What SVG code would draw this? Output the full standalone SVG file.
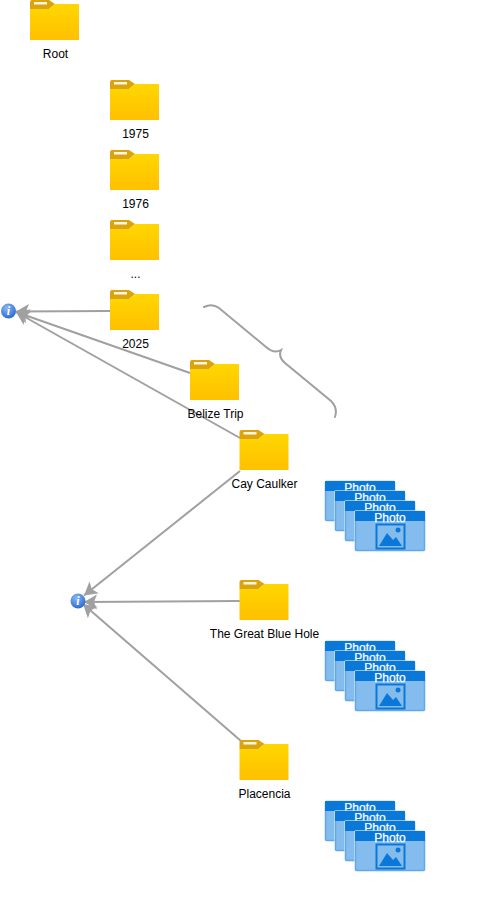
<svg xmlns="http://www.w3.org/2000/svg" width="484" height="902" viewBox="0 0 484 902">
<style>
.lbl{font:12px "Liberation Sans",Arial,sans-serif;fill:#000;text-anchor:middle}
.ph{font:12px "Liberation Sans",Arial,sans-serif;fill:#fff;text-anchor:middle;stroke:#fff;stroke-width:0.250}
.c{fill:none;stroke:#a0a0a0;stroke-width:2}
.brace{fill:none;stroke:#a0a0a0;stroke-width:2;stroke-linecap:round}
</style>
<defs>
<linearGradient id="fg" x1="0" y1="0" x2="0" y2="1"><stop offset="0" stop-color="#ffd700"/><stop offset="1" stop-color="#ffc000"/></linearGradient>
<radialGradient id="ig" cx="0.4" cy="0.3" r="0.8"><stop offset="0" stop-color="#8ab8f0"/><stop offset="1" stop-color="#1f62cc"/></radialGradient>
<marker id="arr" markerUnits="userSpaceOnUse" markerWidth="16" markerHeight="18" refX="14" refY="9" orient="auto"><path d="M14 9 L1 1.500 L4 9 L1 16.500 Z" fill="#a0a0a0"/></marker>
<g id="folder">
<path d="M0 2 Q0 0 2 0 H19 L25 4 L19 9 H0 Z" fill="#dca40c"/>
<rect x="4" y="2" width="13" height="2.500" fill="#fbf6e6"/>
<path d="M0 9 H19 L25 4 H49 V40 H0 Z" fill="url(#fg)"/>
</g>
<g id="info">
<circle cx="0" cy="0" r="7.500" fill="url(#ig)"/>
<text x="0" y="4" font-family="Liberation Serif,serif" font-style="italic" font-weight="bold" font-size="12" fill="#fff" text-anchor="middle">i</text>
</g>
<g id="card">
<rect x="-0.750" y="-0.750" width="71.500" height="41.500" rx="1.500" fill="#fff" fill-opacity="0.800"/>
<rect x="0.500" y="0.500" width="69" height="39" rx="1" fill="#85bcee" stroke="#5fa9ea" stroke-width="1.500"/>
<rect x="0" y="0" width="70" height="10" fill="#0a78d8"/>
<text class="ph" x="35" y="11">Photo</text>
</g>
<g id="pic">
<rect x="21.500" y="13.500" width="28" height="24" fill="none" stroke="#0a78d8" stroke-width="2"/>
<path d="M24 35 L32 22 L38 29 L41 26 L47 35 Z" fill="#0a78d8"/>
<circle cx="43" cy="19" r="2.500" fill="#0a78d8"/>
</g>
</defs>
<g id="connectors">
<path class="c" marker-end="url(#arr)" d="M110 311 L16 311.500"/>
<path class="c" marker-end="url(#arr)" d="M190 373 L16 312"/>
<path class="c" marker-end="url(#arr)" d="M240 438 L16 312"/>
<path class="c" marker-end="url(#arr)" d="M240 471 L84 595.500"/>
<path class="c" marker-end="url(#arr)" d="M240 601 L84 602"/>
<path class="c" marker-end="url(#arr)" d="M241 741 L83 604"/>
<path class="brace" d="M204 307 Q212 303 219 308 L266 347 Q274 354 281 350 Q278 357 285 363 L331 401 Q338 408 335 417"/>
</g>
<g id="root"><use href="#folder" x="30" y="0"/><text class="lbl" x="55.500" y="58">Root</text></g>
<g id="y1975"><use href="#folder" x="110" y="80"/><text class="lbl" x="135.500" y="138">1975</text></g>
<g id="y1976"><use href="#folder" x="110" y="150"/><text class="lbl" x="135.500" y="208">1976</text></g>
<g id="ydots"><use href="#folder" x="110" y="220"/><text class="lbl" x="135.500" y="278">...</text></g>
<g id="y2025"><use href="#folder" x="110" y="290"/><text class="lbl" x="135.500" y="348">2025</text></g>
<g id="belize"><use href="#folder" x="190" y="360"/><text class="lbl" x="215.500" y="418">Belize Trip</text></g>
<g id="cay"><use href="#folder" x="239.500" y="430"/><text class="lbl" x="264.500" y="488">Cay Caulker</text></g>
<g id="hole"><use href="#folder" x="239.500" y="580"/><text class="lbl" x="264.500" y="638">The Great Blue Hole</text></g>
<g id="placencia"><use href="#folder" x="239.500" y="740"/><text class="lbl" x="264.500" y="798">Placencia</text></g>
<g id="info1"><use href="#info" x="8.500" y="311"/></g>
<g id="info2"><use href="#info" x="78" y="601"/></g>
<g id="photos1"><use href="#card" x="325" y="481"/><use href="#card" x="335" y="491"/><use href="#card" x="345" y="501"/><use href="#card" x="355" y="511"/><use href="#pic" x="355" y="511"/></g>
<g id="photos2"><use href="#card" x="325" y="641"/><use href="#card" x="335" y="651"/><use href="#card" x="345" y="661"/><use href="#card" x="355" y="671"/><use href="#pic" x="355" y="671"/></g>
<g id="photos3"><use href="#card" x="325" y="801"/><use href="#card" x="335" y="811"/><use href="#card" x="345" y="821"/><use href="#card" x="355" y="831"/><use href="#pic" x="355" y="831"/></g>
</svg>
